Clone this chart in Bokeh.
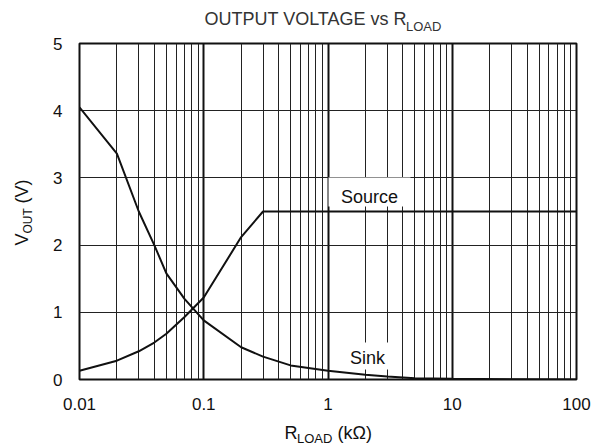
import math
from bokeh.plotting import figure
from bokeh.models import FixedTicker, Label, CustomJSTickFormatter
from bokeh.embed import file_html
from bokeh.resources import INLINE

# ---- data ----
r_source = [0.01, 0.02, 0.03, 0.04, 0.05, 0.07, 0.1, 0.2, 0.3, 100]
v_source = [0.13, 0.28, 0.42, 0.55, 0.68, 0.93, 1.22, 2.12, 2.5, 2.5]

r_sink = [0.01, 0.02, 0.03, 0.04, 0.05, 0.07, 0.1, 0.2, 0.3, 0.5, 1, 2, 3, 5, 10, 100]
v_sink = [4.05, 3.36, 2.5, 2.0, 1.58, 1.2, 0.88, 0.48, 0.34, 0.21, 0.13, 0.07, 0.045, 0.02, 0.01, 0.0]

x_ticks = [0.01, 0.1, 1, 10, 100]
x_tick_labels = ["0.01", "0.1", "1", "10", "100"]
y_ticks = [0, 1, 2, 3, 4, 5]

FONT = "Liberation Sans"
NB = "\u00a0"

# frame geometry (pixels)
FL, FR, FT, FB = 79, 576, 43, 379
W, H = 597, 447

def dx(px):
    return 10 ** (-2 + 4 * (px - FL) / (FR - FL))

def dy(py):
    return 5 * (FB - py) / (FB - FT)

p = figure(width=W, height=H, x_axis_type="log", x_range=(0.01, 100), y_range=(0, 5),
           output_backend="svg", toolbar_location=None,
           min_border_left=FL, min_border_right=W - FR, min_border_top=FT, min_border_bottom=H - FB)
p.background_fill_color = "white"
p.border_fill_color = "white"
p.outline_line_color = "#111111"
p.outline_line_width = 2

# grids
minor = [m * d for d in [0.01, 0.1, 1, 10] for m in range(2, 10)]
p.xgrid.ticker = FixedTicker(ticks=x_ticks, minor_ticks=minor)
p.xgrid.grid_line_color = "#111111"
p.xgrid.grid_line_width = 2
p.xgrid.minor_grid_line_color = "#222222"
p.xgrid.minor_grid_line_width = 1
p.ygrid.ticker = FixedTicker(ticks=y_ticks)
p.ygrid.grid_line_color = "#222222"
p.ygrid.grid_line_width = 1

# axes
p.xaxis.ticker = FixedTicker(ticks=x_ticks)
p.xaxis.formatter = CustomJSTickFormatter(args=dict(t=x_ticks, l=x_tick_labels), code="""
let best = 0, bd = 1e9;
for (let i = 0; i < t.length; i++) { const d = Math.abs(Math.log10(t[i]) - Math.log10(tick)); if (d < bd) { bd = d; best = i; } }
return l[best];
""")
p.yaxis.ticker = FixedTicker(ticks=y_ticks)
for ax in (p.xaxis[0], p.yaxis[0]):
    ax.axis_line_color = None
    ax.major_tick_line_color = None
    ax.minor_tick_line_color = None
    ax.major_tick_out = 0
    ax.minor_tick_out = 0
    ax.major_tick_in = 0
    ax.minor_tick_in = 0
    ax.major_label_text_font = FONT
    ax.major_label_text_font_size = "17px"
    ax.major_label_text_color = "#111111"
p.xaxis.major_label_standoff = 18
p.yaxis.major_label_standoff = 17

# white boxes behind the curve labels
p.quad(left=[dx(328)], right=[dx(410)], top=[dy(177)], bottom=[dy(206)], fill_color="white", line_color=None)
p.quad(left=[dx(336)], right=[dx(396)], top=[dy(342)], bottom=[dy(369)], fill_color="white", line_color=None)

# curves
p.line(r_source, v_source, line_color="#111111", line_width=2)
p.line(r_sink, v_sink, line_color="#111111", line_width=2)

def lab(px, py, text, size, align="left", baseline="middle", angle=0, color="#111111", place=None):
    l = Label(x=dx(px), y=dy(py), text=text, text_font=FONT, text_font_size=size,
              text_align=align, text_baseline=baseline, angle=angle, text_color=color)
    if place is None:
        p.add_layout(l)
    else:
        p.add_layout(l, place)

lab(369, 196, "Source", "18px", align="center")
lab(367, 357, "Sink", "18px", align="center")

# title
lab(204, 18.5, "OUTPUT VOLTAGE vs R", "18px", color="#333333", place="above")
lab(405.5, 26, "LOAD", "13px", color="#333333", place="above")

# x axis label
lab(284, 432, "R" + NB * 8 + "(k\u03a9)", "18px", place="below")
lab(296.5, 438, "LOAD", "13px", place="below")

# y axis label (rotated)
lab(21, 245, "V" + NB * 6 + "(V)", "18px", angle=math.pi / 2, place="left")
lab(27, 233, "OUT", "12px", angle=math.pi / 2, place="left")

open("out.html", "w").write(file_html(p, INLINE))
